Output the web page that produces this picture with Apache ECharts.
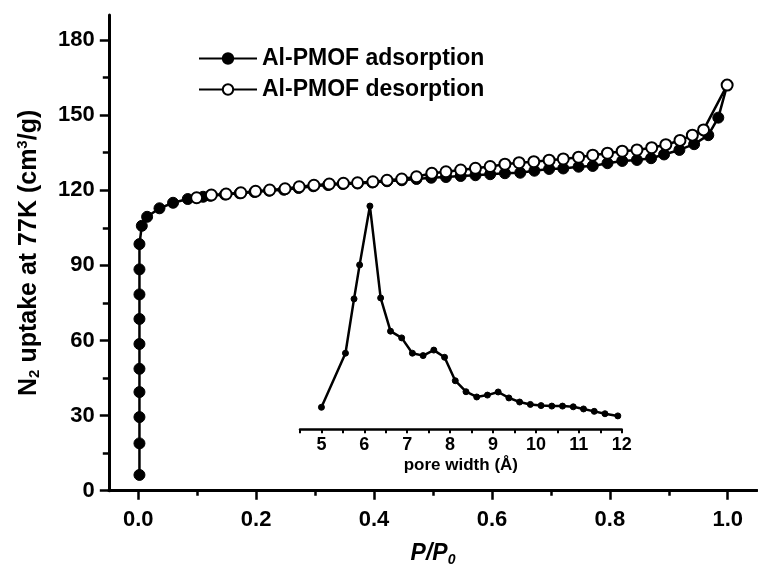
<!DOCTYPE html>
<html><head><meta charset="utf-8">
<script src="https://cdn.jsdelivr.net/npm/echarts@6/dist/echarts.min.js"></script>
<style>html,body{margin:0;padding:0;background:#fff}#c{width:758px;height:574px}</style>
</head><body><div id="c"></div>
<script>
// ---- data ----
const adsX = [0.002,0.002,0.002,0.002,0.002,0.002,0.002,0.002,0.002,0.002,
  0.006,0.015,0.036,0.059,0.084,0.110,
  0.122,0.147,0.172,0.197,0.222,0.247,0.272,0.297,0.322,0.347,0.372,0.397,0.422,0.447,
  0.472,0.497,0.522,0.547,0.572,0.597,0.622,0.648,0.672,0.697,0.721,0.747,0.771,0.796,
  0.821,0.846,0.870,0.892,0.918,0.943,0.967,0.984,0.999];
const adsY = [6.3,18.9,29.4,39.4,48.7,58.6,68.6,78.4,88.4,98.5,
  105.8,109.4,112.8,115.0,116.5,117.4,
  117.8,118.3,118.8,119.3,119.8,120.2,120.9,121.6,122.1,122.5,122.7,123.1,123.6,124.0,
  124.5,125.0,125.3,125.7,126.0,126.4,126.8,127.0,127.8,128.5,128.7,129.4,129.7,130.8,
  131.7,132.1,132.8,134.3,136.1,138.4,142.0,149.0,162.0];
const desX = [0.999,0.959,0.940,0.919,0.895,0.871,0.846,0.821,0.796,0.771,0.747,0.721,0.697,
  0.671,0.646,0.622,0.597,0.572,0.547,0.522,0.498,0.472,0.447,0.422,0.398,0.372,0.348,
  0.324,0.298,0.273,0.249,0.223,0.199,0.174,0.149,0.124,0.099];
const desY = [162.0,144.1,142.0,139.9,138.2,137.0,136.1,135.6,134.8,134.0,133.2,132.5,132.0,
  131.4,131.0,130.4,129.5,128.8,128.1,127.4,126.8,125.4,124.5,124.0,123.4,123.0,122.8,
  122.5,122.0,121.4,120.6,120.1,119.6,119.0,118.5,118.1,117.0];
const poreX = [5.00,5.56,5.76,5.89,6.13,6.38,6.61,6.87,7.12,7.37,7.62,7.87,8.12,8.37,8.62,
  8.87,9.12,9.37,9.62,9.87,10.12,10.37,10.62,10.87,11.11,11.36,11.61,11.91];
const poreY = [9.2,31.8,54.5,68.7,93.3,54.9,41.0,38.2,31.8,30.8,33.1,30.1,20.3,15.7,13.5,
  14.3,15.6,13.1,11.4,10.4,9.9,9.7,9.7,9.4,8.5,7.5,6.5,5.6];
const mainXLabels = [0, 0.2, 0.4, 0.6, 0.8, 1.0];
const mainXMinor = [0.1, 0.3, 0.5, 0.7, 0.9];
const mainYLabels = [0, 30, 60, 90, 120, 150, 180];
const mainYMinor = [15, 45, 75, 105, 135, 165];
const insetXLabels = [5, 6, 7, 8, 9, 10, 11, 12];
const insetXTicks = [4.5, 5, 5.5, 6, 6.5, 7, 7.5, 8, 8.5, 9, 9.5, 10, 10.5, 11, 11.5, 12];
const seriesNames = ['Al-PMOF adsorption', 'Al-PMOF desorption'];

const FF = '"Liberation Sans", Arial, sans-serif';
const pairs = (xs, ys) => xs.map((x, i) => [x, ys[i]]);
const black = '#000';

const chart = echarts.init(document.getElementById('c'), null, {renderer: 'canvas'});
chart.setOption({
  animation: false,
  backgroundColor: '#fff',
  legend: {
    orient: 'vertical', left: 198, top: 47, padding: 0,
    itemWidth: 58, itemHeight: 13, itemGap: 8,
    data: seriesNames,
    textStyle: {fontFamily: FF, fontWeight: 'bold', fontSize: 23, color: black, lineHeight: 22}
  },
  grid: [
    {left: 108.8, right: 0.8, top: 15, bottom: 83.3, containLabel: false, outerBoundsMode: 'none'},
    {left: 300, right: 136.3, top: 190, bottom: 144.7, containLabel: false, outerBoundsMode: 'none'}
  ],
  xAxis: [
    {
      type: 'value', gridIndex: 0, min: -0.05, max: 1.05, position: 'bottom',
      axisLine: {show: true, onZero: false, lineStyle: {color: black, width: 3}},
      axisTick: {show: true, customValues: mainXLabels, length: 9, lineStyle: {color: black, width: 2.5}},
      axisLabel: {customValues: mainXLabels, formatter: v => v.toFixed(1), margin: 18,
        fontFamily: FF, fontWeight: 'bold', fontSize: 22, color: black},
      splitLine: {show: false},
      name: '{i|P/P}{s|0}', nameLocation: 'middle', nameGap: 50,
      nameTextStyle: {rich: {
        i: {fontFamily: FF, fontWeight: 'bold', fontStyle: 'italic', fontSize: 23, color: black},
        s: {fontFamily: FF, fontWeight: 'bold', fontStyle: 'italic', fontSize: 14, color: black, padding: [12, 0, 0, 0]}
      }}
    },
    {
      type: 'value', gridIndex: 0, min: -0.05, max: 1.05, position: 'bottom', offset: 0,
      axisLine: {show: false, onZero: false},
      axisTick: {show: true, customValues: mainXMinor, length: 5, lineStyle: {color: black, width: 2.5}},
      axisLabel: {show: false}, splitLine: {show: false}
    },
    {
      type: 'value', gridIndex: 1, min: 4.5, max: 12, position: 'bottom',
      axisLine: {show: true, onZero: false, lineStyle: {color: black, width: 2.5}},
      axisTick: {show: true, customValues: insetXTicks, length: 4, lineStyle: {color: black, width: 2}},
      axisLabel: {customValues: insetXLabels, margin: 7,
        fontFamily: FF, fontWeight: 'bold', fontSize: 18, color: black},
      splitLine: {show: false},
      name: 'pore width (Å)', nameLocation: 'middle', nameGap: 28,
      nameTextStyle: {fontFamily: FF, fontWeight: 'bold', fontSize: 17, color: black}
    }
  ],
  yAxis: [
    {
      type: 'value', gridIndex: 0, min: 0, max: 190, position: 'left',
      axisLine: {show: true, onZero: false, lineStyle: {color: black, width: 3}},
      axisTick: {show: true, customValues: mainYLabels, length: 9, lineStyle: {color: black, width: 2.5}},
      axisLabel: {customValues: mainYLabels, margin: 14,
        fontFamily: FF, fontWeight: 'bold', fontSize: 22, color: black},
      splitLine: {show: false},
      name: '{a|N}{sub|2}{a| uptake at 77K (cm}{sup|3}{a|/g)}', nameLocation: 'middle', nameGap: 66,
      nameTextStyle: {rich: {
        a: {fontFamily: FF, fontWeight: 'bold', fontSize: 25, color: black},
        sub: {fontFamily: FF, fontWeight: 'bold', fontSize: 15, color: black, padding: [12, 0, 0, 0]},
        sup: {fontFamily: FF, fontWeight: 'bold', fontSize: 15, color: black, padding: [0, 0, 12, 0]}
      }}
    },
    {
      type: 'value', gridIndex: 0, min: 0, max: 190, position: 'left', offset: 0,
      axisLine: {show: false, onZero: false},
      axisTick: {show: true, customValues: mainYMinor, length: 6, lineStyle: {color: black, width: 2.5}},
      axisLabel: {show: false}, splitLine: {show: false}
    },
    {type: 'value', gridIndex: 1, min: 0, max: 100, show: false}
  ],
  series: [
    {
      name: seriesNames[0], type: 'line', xAxisIndex: 0, yAxisIndex: 0,
      data: pairs(adsX, adsY), symbol: 'circle', symbolSize: 11,
      lineStyle: {color: black, width: 2.5},
      itemStyle: {color: black, borderColor: black, borderWidth: 1}
    },
    {
      name: seriesNames[1], type: 'line', xAxisIndex: 0, yAxisIndex: 0,
      data: pairs(desX, desY), symbol: 'circle', symbolSize: 11,
      lineStyle: {color: black, width: 2.5},
      itemStyle: {color: '#fff', borderColor: black, borderWidth: 2}
    },
    {
      name: 'pore', type: 'line', xAxisIndex: 2, yAxisIndex: 2,
      data: pairs(poreX, poreY), symbol: 'circle', symbolSize: 6,
      lineStyle: {color: black, width: 2.5},
      itemStyle: {color: black, borderColor: black}
    }
  ]
});
</script></body></html>
